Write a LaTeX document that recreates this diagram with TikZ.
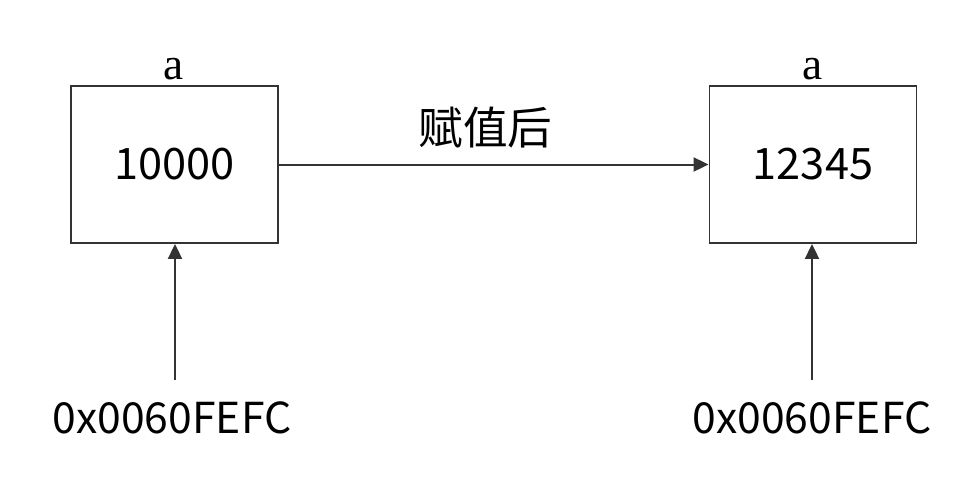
\documentclass[tikz,border=0pt]{standalone}
\usepackage{fontspec}
\setmainfont{Liberation Serif}
\newfontfamily\cjk{Noto Sans CJK SC}
\usetikzlibrary{arrows.meta}
\begin{document}
\begin{tikzpicture}[x=0.75pt,y=-0.75pt,
  memcell/.style={draw=black!80, line width=1.4pt, minimum width=207*0.75pt, minimum height=157*0.75pt, inner sep=0pt, font=\cjk\fontsize{32.5}{38}\selectfont},
  lbl/.style={inner sep=0pt, font=\fontsize{34}{38}\selectfont},
  addr/.style={inner sep=0pt, font=\cjk\fontsize{32}{36}\selectfont},
  conn/.style={draw=black!80, line width=1.5pt, -{Triangle[length=15*0.75pt, width=14*0.75pt]}}]
\useasboundingbox (0,0) rectangle (980,482);
\node[memcell] (b1) at (174.5,164.5) {10000};
\node[memcell] (b2) at (813,164.5) {12345};
\node[lbl, anchor=base] (a1) at (174,79) {a};
\node[lbl, anchor=base] (a2) at (813,79) {a};
\node[addr] (p1) at (172,418) {0x0060FEFC};
\node[addr] (p2) at (812,418) {0x0060FEFC};
\node[inner sep=0pt, font=\cjk\fontsize{33.5}{38}\selectfont] (t) at (485.5,128) {赋值后};
\coordinate (s1) at (175,380);
\coordinate (s2) at (812,380);
\draw[conn] (b1.east) -- (b2.west);
\draw[conn] (s1) -- (s1 |- b1.south);
\draw[conn] (s2) -- (s2 |- b2.south);
\end{tikzpicture}
\end{document}
